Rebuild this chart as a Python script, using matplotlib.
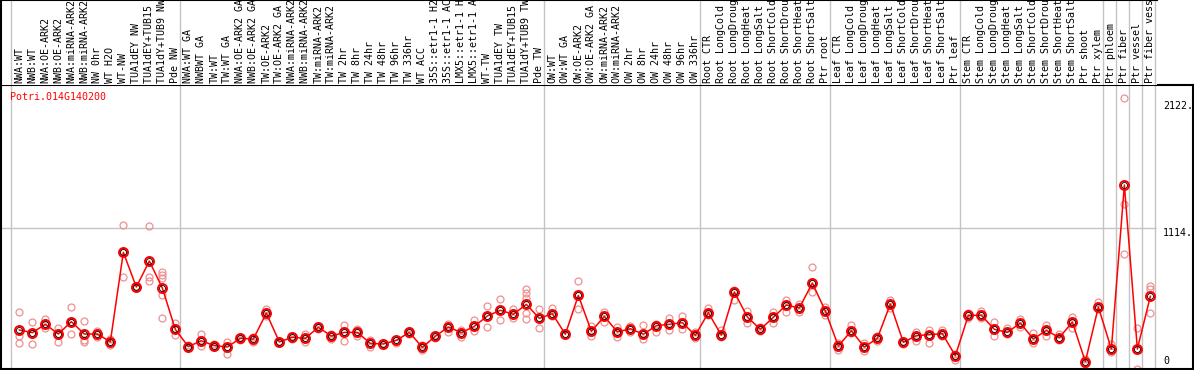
import matplotlib
matplotlib.use("Agg")
import matplotlib.pyplot as plt

plt.rcParams['font.family'] = ['DejaVu Sans Mono']

gene = "Potri.014G140200"

labels = [
    "NWA:WT", "NWB:WT", "NWA:OE-ARK2", "NWB:OE-ARK2", "NWA:miRNA-ARK2", "NWB:miRNA-ARK2",
    "NW 0hr", "WT H2O", "WT-NW", "TUA1dEY NW", "TUA1dEY+TUB15 NW", "TUA1dY+TUB9 NW", "Pde NW",
    "NWA:WT GA", "NWBWT GA", "TW:WT", "TW:WT GA", "NWA:OE-ARK2 GA", "NWB:OE-ARK2 GA",
    "TW:OE-ARK2", "TW:OE-ARK2 GA", "NWA:miRNA-ARK2 GA", "NWB:miRNA-ARK2 GA", "TW:miRNA-ARK2",
    "TW:miRNA-ARK2 GA", "TW 2hr", "TW 8hr", "TW 24hr", "TW 48hr", "TW 96hr", "TW 336hr",
    "WT ACC", "35S::etr1-1 H2O", "35S::etr1-1 ACC", "LMX5::etr1-1 H2O", "LMX5::etr1-1 ACC",
    "WT-TW", "TUA1dEY TW", "TUA1dEY+TUB15 TW", "TUA1dY+TUB9 TW", "Pde TW",
    "OW:WT", "OW:WT GA", "OW:OE-ARK2", "OW:OE-ARK2 GA", "OW:miRNA-ARK2", "OW:miRNA-ARK2 GA",
    "OW 2hr", "OW 8hr", "OW 24hr", "OW 48hr", "OW 96hr", "OW 336hr",
    "Root CTR", "Root LongCold", "Root LongDrought", "Root LongHeat", "Root LongSalt",
    "Root ShortCold", "Root ShortDrought", "Root ShortHeat", "Root ShortSalt", "Ptr root",
    "Leaf CTR", "Leaf LongCold", "Leaf LongDrought", "Leaf LongHeat", "Leaf LongSalt",
    "Leaf ShortCold", "Leaf ShortDrought", "Leaf ShortHeat", "Leaf ShortSalt", "Ptr leaf",
    "Stem CTR", "Stem LongCold", "Stem LongDrought", "Stem LongHeat", "Stem LongSalt",
    "Stem ShortCold", "Stem ShortDrought", "Stem ShortHeat", "Stem ShortSalt",
    "Ptr shoot", "Ptr xylem", "Ptr phloem", "Ptr fiber", "Ptr vessel", "Ptr fiber vessel",
]

# mean expression per sample
means = [
    309, 288, 354, 277, 375, 277, 277, 216, 924, 649,
    855, 641, 314, 177, 224, 185, 174, 243, 237, 443,
    214, 251, 243, 330, 261, 290, 290, 203, 198, 227,
    290, 172, 259, 333, 288, 338, 420, 465, 433, 512,
    401, 438, 275, 583, 298, 417, 293, 319, 275, 343,
    354, 367, 267, 446, 267, 610, 412, 314, 409, 507,
    483, 681, 459, 182, 303, 174, 243, 515, 211, 264,
    272, 280, 105, 425, 425, 314, 290, 364, 237, 306,
    248, 372, 58, 491, 158, 1457, 158, 576,
]

# individual replicates
reps = [
    [449, 264, 203], [370, 288, 196], [396, 354, 322], [327, 277, 216], [489, 375, 277],
    [378, 230, 216], [303, 277, 251], [190, 216, 240], [1140, 924, 726], [649, 640, 660],
    [1130, 731, 699], [768, 741, 718, 586, 401], [364, 314, 269], [190, 177, 165], [277, 224, 182],
    [198, 185, 172], [216, 174, 121], [255, 243, 230], [251, 237, 216], [477, 443, 420],
    [214, 208, 220], [265, 251, 240], [277, 243, 216], [340, 330, 320], [280, 261, 240],
    [348, 290, 224], [314, 290, 262], [230, 203, 177], [205, 198, 190], [227, 227, 208],
    [300, 290, 280], [190, 172, 151], [270, 259, 248], [354, 333, 296], [309, 288, 251],
    [385, 338, 301], [496, 420, 330], [552, 465, 385], [472, 433, 401], [633, 599, 560, 441, 394],
    [477, 401, 322], [480, 438, 417], [275, 270, 280], [697, 583, 475], [343, 298, 264],
    [454, 417, 375], [330, 293, 251], [343, 319, 296], [348, 275, 238], [359, 343, 296],
    [404, 354, 309], [420, 367, 314], [296, 267, 243], [485, 446, 428], [309, 267, 250],
    [625, 610, 544], [459, 412, 362], [330, 314, 298], [454, 409, 367], [546, 507, 449],
    [515, 483, 451], [808, 681, 612], [493, 459, 428], [208, 182, 150], [348, 303, 282],
    [203, 174, 142], [262, 243, 225], [546, 515, 485], [220, 211, 200], [296, 264, 222],
    [309, 272, 203], [309, 280, 264], [115, 105, 71], [441, 425, 401], [462, 425, 401],
    [370, 314, 264], [327, 290, 275], [396, 364, 330], [282, 237, 203], [348, 306, 264],
    [275, 248, 230], [414, 372, 322], [79, 58, 37], [528, 491, 475], [196, 158, 132],
    [2143, 1306, 908], [322, 158, 0], [657, 633, 441],
]

# group separators (index of first sample after the line)
groups = [0, 13, 41, 53, 63, 73, 84, 85, 86, 87, 88]
grid_y = 1114
ytick_labels = ["2122.", "1114."]
ytick_vals = [2122, 1114]

W, H = 1194, 370
fig = plt.figure(figsize=(W / 100, H / 100), dpi=100)

grey = "#c4c4c4"
xs = list(range(len(labels)))

# main plot
ax = fig.add_axes([1 / W, 1 / H, 1192 / W, 284 / H])
ax.set_xlim(-1.41, 90.28)
ax.set_ylim(0, 2249)
ax.set_xticks([])
ax.set_yticks([])
for s in ax.spines.values():
    s.set_linewidth(1.5)
    s.set_color("black")

for g in groups:
    ax.axvline(g - 0.62, color=grey, lw=1, zorder=1)
ax.hlines(grid_y, -1.41, 87.4, color=grey, lw=1, zorder=1)

for i, r in enumerate(reps):
    ax.plot([i] * len(r), r, 'o', ms=5, mfc='none', mec='#ee9090', mew=0.9, zorder=2)

ax.plot(xs, means, '-', color='red', lw=1.1, zorder=3)
ax.plot(xs, means, 'o', ms=6.5, mfc='none', mec='red', mew=1.4, zorder=4)
ax.plot(xs, means, 'o', ms=4.3, mfc='none', mec='black', mew=0.6, zorder=5)

ax.text(9 / 1192, 0.958, gene, transform=ax.transAxes, color='red',
        fontsize=7.2, va='center', ha='left')

ytr = ax.get_yaxis_transform()
for v, t in zip(ytick_vals, ytick_labels):
    ax.text(0.9748, v, t, transform=ytr, fontsize=7.2, va='top', ha='left')
ax.text(0.9748, 20, "0", transform=ytr, fontsize=7.2, va='bottom', ha='left')

# label strip
lax = fig.add_axes([1 / W, 285 / H, 1156 / W, 85 / H])
lax.set_xlim(-1.41, 87.52)
lax.set_ylim(0, 1)
lax.set_xticks([])
lax.set_yticks([])
lax.spines['right'].set_visible(False)
lax.spines['bottom'].set_visible(False)
lax.spines['top'].set_linewidth(1.5)
lax.spines['left'].set_linewidth(1.5)
for g in groups:
    lax.axvline(g - 0.62, color=grey, lw=1, zorder=1)
for i, lab in enumerate(labels):
    lax.text(i, 0.024, lab, rotation=90, fontsize=7.2, va='bottom', ha='center',
             clip_on=True)

fig.savefig("out.png", dpi=100)
